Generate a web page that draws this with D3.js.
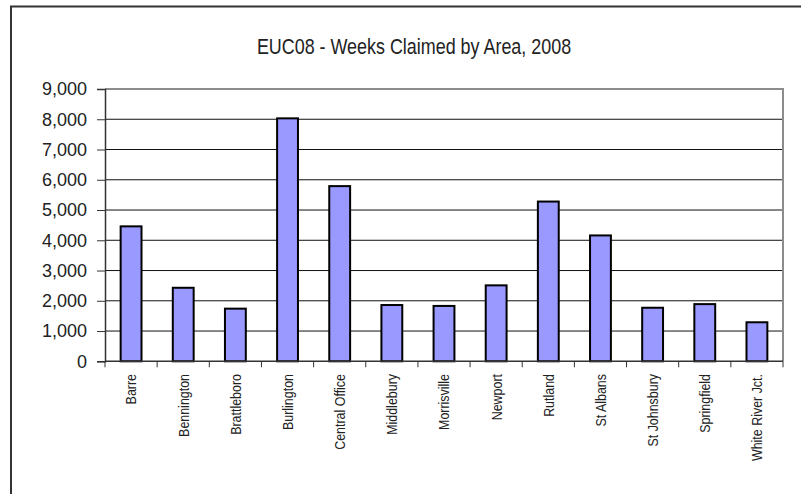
<!DOCTYPE html>
<html>
<head>
<meta charset="utf-8">
<script src="https://cdn.jsdelivr.net/npm/d3@7"></script>
<style>
  body { margin: 0; background: #fff; overflow: hidden; }
  svg { display: block; font-family: "Liberation Sans", Arial, sans-serif; }
</style>
</head>
<body>
<div id="chart"></div>
<script>
const areas = ["Barre", "Bennington", "Brattleboro", "Burlington", "Central Office", "Middlebury",
  "Morrisville", "Newport", "Rutland", "St Albans", "St Johnsbury", "Springfield", "White River Jct."];
const weeks = [4460, 2430, 1740, 8030, 5790, 1860, 1830, 2510, 5280, 4160, 1770, 1890, 1290];
const yTicks = [0, 1000, 2000, 3000, 4000, 5000, 6000, 7000, 8000, 9000];
const title = "EUC08 - Weeks Claimed by Area, 2008";

const width = 801,
  height = 494,
  margin = {top: 89, right: 18, bottom: 133, left: 105};

const svg = d3.select("#chart")
  .append("svg")
  .attr("width", width)
  .attr("height", height);

// outer chart frame: only left and top edges fall inside the picture
svg.append("path")
  .attr("d", `M11,${height}V6.5H${width}`)
  .attr("fill", "none")
  .attr("stroke", "#333")
  .attr("stroke-width", 2);

const x = d3.scaleBand(areas, [margin.left, width - margin.right]);
const y = d3.scaleLinear([0, 9000], [height - margin.bottom + 0.3, margin.top]);

// gridlines
svg.append("g")
  .selectAll("line")
  .data(yTicks.slice(1, -1))
  .join("line")
  .attr("x1", margin.left).attr("x2", width - margin.right)
  .attr("y1", d => y(d)).attr("y2", d => y(d))
  .attr("stroke", "#111")
  .attr("stroke-width", 1);

// plot area top / right edge
svg.append("path")
  .attr("d", `M${margin.left},${y(9000)}H${width - margin.right}V${y(0)}`)
  .attr("fill", "none")
  .attr("stroke", "#8c8c8c")
  .attr("stroke-width", 2);

// bars
const barW = x.bandwidth() / 2.5;
svg.append("g")
  .selectAll("rect")
  .data(weeks)
  .join("rect")
  .attr("x", (d, i) => x(areas[i]) + (x.bandwidth() - barW) / 2)
  .attr("y", d => y(d))
  .attr("width", barW)
  .attr("height", d => y(0) - y(d))
  .attr("fill", "#9999ff")
  .attr("stroke", "#000")
  .attr("stroke-width", 2);

// y axis
const yAxis = svg.append("g")
  .attr("transform", `translate(${margin.left},0)`)
  .call(d3.axisLeft(y).tickValues(yTicks).tickFormat(d3.format(",")).tickSize(8).tickPadding(10));
yAxis.select(".domain").attr("stroke", "#333").attr("stroke-width", 1.5);
yAxis.selectAll(".tick line").attr("stroke", "#333");
yAxis.selectAll("text")
  .attr("font-size", 18)
  .attr("fill", "#222")
  .attr("font-family", "'Liberation Sans', Arial, sans-serif");

// x axis: ticks at category boundaries
const edges = areas.map(a => x(a)).concat([x.range()[1]]);
svg.append("line")
  .attr("x1", margin.left).attr("x2", width - margin.right)
  .attr("y1", y(0)).attr("y2", y(0))
  .attr("stroke", "#333").attr("stroke-width", 1.5);
svg.append("g")
  .selectAll("line")
  .data(edges)
  .join("line")
  .attr("x1", d => d).attr("x2", d => d)
  .attr("y1", y(0)).attr("y2", y(0) + 6)
  .attr("stroke", "#333");

svg.append("g")
  .selectAll("text")
  .data(areas)
  .join("text")
  .attr("transform", d => `translate(${x(d) + x.bandwidth() / 2},374) rotate(-90) scale(0.83,1)`)
  .attr("text-anchor", "end")
  .attr("dy", "0.36em")
  .attr("font-size", 15)
  .attr("fill", "#222")
  .text(d => d);

// title
svg.append("text")
  .attr("transform", "translate(414,54) scale(0.815,1)")
  .attr("text-anchor", "middle")
  .attr("font-size", 22)
  .attr("fill", "#222")
  .text(title);
</script>
</body>
</html>
